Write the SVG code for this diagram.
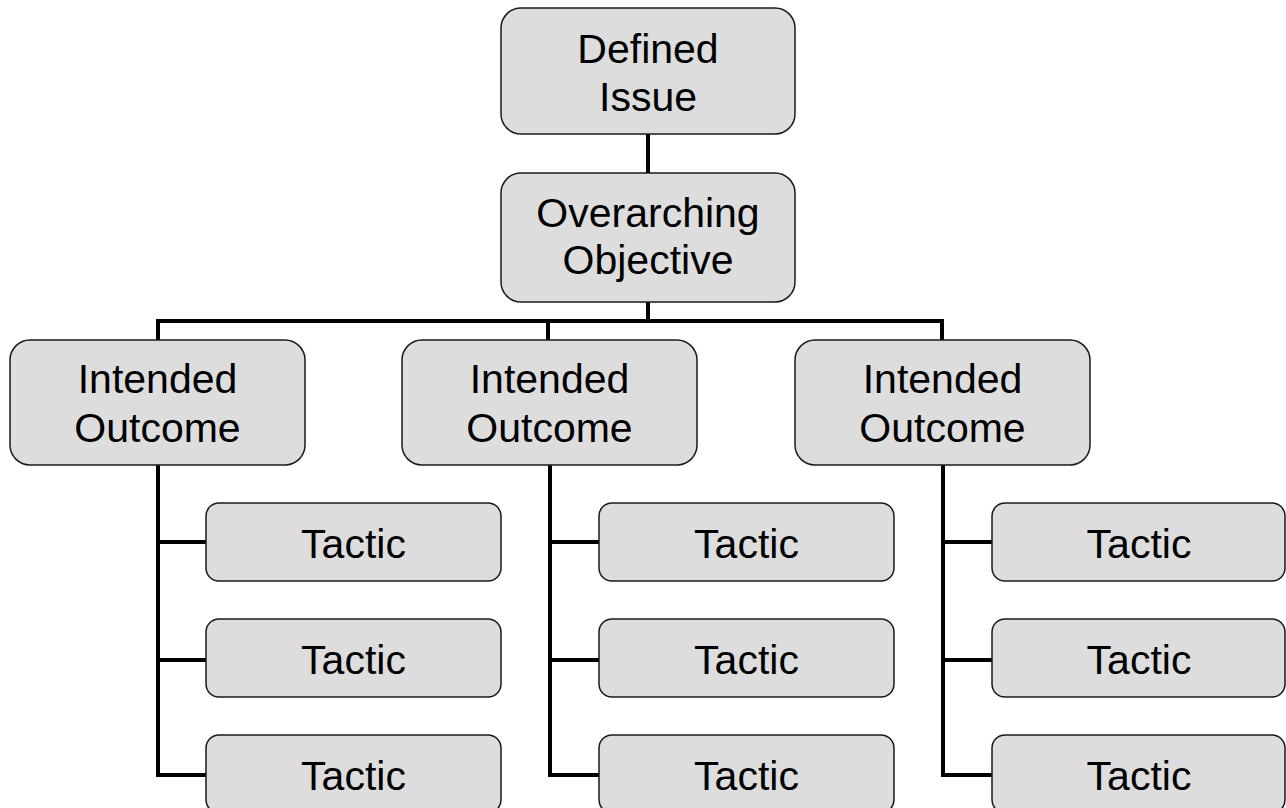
<svg xmlns="http://www.w3.org/2000/svg" width="1286" height="808" viewBox="0 0 1286 808">
<style>
.box{fill:#dddddd;stroke:#1a1a1a;stroke-width:1.5}
.t{font-family:"Liberation Sans",Arial,sans-serif;font-size:41px;fill:#000;text-anchor:middle}
.c{fill:none;stroke:#000;stroke-width:4}
</style>
<rect width="1286" height="808" fill="#fff"/>
<g id="connectors">
<path class="c" d="M648 134V173M648 302V321M158 340V321H942V340M548 321V340"/>
<path class="c" d="M158 465V775H206M158 542H206M158 660H206"/>
<path class="c" d="M550 465V775H599M550 542H599M550 660H599"/>
<path class="c" d="M943 465V775H992M943 542H992M943 660H992"/>
</g>
<g id="defined-issue"><rect class="box" x="501" y="8" width="294" height="126" rx="20"/><text class="t" x="648" y="63">Defined</text><text class="t" x="648" y="111">Issue</text></g>
<g id="overarching-objective"><rect class="box" x="501" y="173" width="294" height="129" rx="20"/><text class="t" x="648" y="227">Overarching</text><text class="t" x="648" y="274">Objective</text></g>
<g id="outcome-1"><rect class="box" x="10" y="340" width="295" height="125" rx="20"/><text class="t" x="157.5" y="393">Intended</text><text class="t" x="157.5" y="442">Outcome</text></g>
<g id="outcome-2"><rect class="box" x="402" y="340" width="295" height="125" rx="20"/><text class="t" x="549.5" y="393">Intended</text><text class="t" x="549.5" y="442">Outcome</text></g>
<g id="outcome-3"><rect class="box" x="795" y="340" width="295" height="125" rx="20"/><text class="t" x="942.5" y="393">Intended</text><text class="t" x="942.5" y="442">Outcome</text></g>
<g id="tactic-1-1"><rect class="box" x="206" y="503" width="295" height="78" rx="13"/><text class="t" x="353.5" y="558">Tactic</text></g>
<g id="tactic-1-2"><rect class="box" x="206" y="619" width="295" height="78" rx="13"/><text class="t" x="353.5" y="674">Tactic</text></g>
<g id="tactic-1-3"><rect class="box" x="206" y="735" width="295" height="78" rx="13"/><text class="t" x="353.5" y="790">Tactic</text></g>
<g id="tactic-2-1"><rect class="box" x="599" y="503" width="295" height="78" rx="13"/><text class="t" x="746.5" y="558">Tactic</text></g>
<g id="tactic-2-2"><rect class="box" x="599" y="619" width="295" height="78" rx="13"/><text class="t" x="746.5" y="674">Tactic</text></g>
<g id="tactic-2-3"><rect class="box" x="599" y="735" width="295" height="78" rx="13"/><text class="t" x="746.5" y="790">Tactic</text></g>
<g id="tactic-3-1"><rect class="box" x="992" y="503" width="293" height="78" rx="13"/><text class="t" x="1139" y="558">Tactic</text></g>
<g id="tactic-3-2"><rect class="box" x="992" y="619" width="293" height="78" rx="13"/><text class="t" x="1139" y="674">Tactic</text></g>
<g id="tactic-3-3"><rect class="box" x="992" y="735" width="293" height="78" rx="13"/><text class="t" x="1139" y="790">Tactic</text></g>
</svg>
